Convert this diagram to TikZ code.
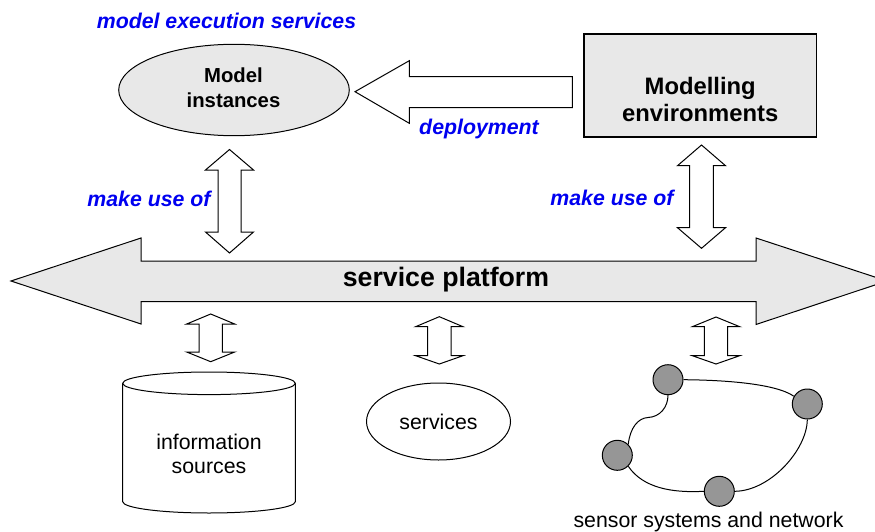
\documentclass[tikz,border=0pt]{standalone}
\usepackage{fontspec}
\usetikzlibrary{shapes.geometric}
\setmainfont{Liberation Sans}
\definecolor{lightfill}{HTML}{E8E8E8}
\definecolor{nodegray}{HTML}{969696}
\definecolor{labelblue}{HTML}{0000F0}
\tikzset{
  block/.style={draw=black,line width=1pt,line join=miter,fill=white},
  grayblock/.style={block,fill=lightfill},
  bluelabel/.style={text=labelblue,font=\fontsize{21.3}{25}\selectfont\bfseries\itshape,inner sep=0pt},
  plain/.style={align=center,font=\fontsize{21.3}{24}\selectfont,inner sep=0pt},
  netnode/.style={circle,draw=black,line width=1pt,fill=nodegray,minimum size=30pt,inner sep=0pt},
  netlink/.style={draw=black,line width=1pt}
}
\newcommand{\vdarrow}[7]{% cx, headhalf, shafthalf, top, sh1, sh2, bot
  \draw[block] (#1,#4) -- (#1+#2,#5) -- (#1+#3,#5) -- (#1+#3,#6) -- (#1+#2,#6) -- (#1,#7)
    -- (#1-#2,#6) -- (#1-#3,#6) -- (#1-#3,#5) -- (#1-#2,#5) -- cycle;
}
\begin{document}
\begin{tikzpicture}[x=1pt,y=-1pt]
\clip (0,0) rectangle (875,532);
% platform
\draw[grayblock] (11,281) -- (141,238) -- (141,261) -- (756,261) -- (756,238) -- (887,281)
  -- (756,324.5) -- (756,301.5) -- (141,301.5) -- (141,324) -- cycle;
\node[font=\fontsize{26.7}{30}\selectfont\bfseries,inner sep=0pt] (platform) at (446,280) {service platform};
% top shapes
\node[ellipse,draw=black,line width=1pt,fill=lightfill,minimum width=230.6pt,minimum height=91.4pt,inner sep=0pt] (model) at (234,90) {};
\node[align=center,inner sep=0pt,font=\fontsize{20.3}{25}\selectfont\bfseries] (modeltext) at (233.5,88) {Model\\instances};
\node[rectangle,draw=black,line width=1.7pt,fill=lightfill,minimum width=232.3pt,minimum height=103pt,inner sep=0pt] (envbox) at (700.2,85.5) {};
\node[font=\fontsize{23.8}{27}\selectfont\bfseries,align=center,inner sep=0pt] (env) at (700.2,99.5) {Modelling\\environments};
\draw[block] (355,91.7) -- (409.3,60.7) -- (409.3,76.7) -- (572.3,76.7) -- (572.3,107.7) -- (409.3,107.7) -- (409.3,123.3) -- cycle;
% double arrows
\vdarrow{229.5}{24}{11.5}{149.5}{170}{232}{253}
\vdarrow{701.5}{24}{11.8}{145}{165.7}{227.7}{248.3}
\vdarrow{210.7}{24}{11.7}{314}{324}{352}{361.7}
\vdarrow{439.3}{23.7}{11.7}{316.7}{326.7}{355.7}{364}
\vdarrow{716}{23.7}{11.7}{317}{326.7}{355.7}{364}
% labels
\node[bluelabel] (mes) at (226.5,21) {model execution services};
\node[bluelabel] (dep) at (479,128.5) {deployment};
\node[bluelabel] (use1) at (149,199) {make use of};
\node[bluelabel] (use2) at (612,198) {make use of};
% cylinder
\draw[block] (122.7,383.3) -- (122.7,501.7) arc[start angle=180,end angle=0,x radius=86.3,y radius=11.3] -- (295.3,383.3);
\draw[block] (209,383.3) ellipse[x radius=86.3,y radius=11.3];
\node[plain] (info) at (209,454) {information\\sources};
% services
\node[ellipse,draw=black,line width=1pt,fill=white,minimum width=144pt,minimum height=77pt,inner sep=0pt,plain] (svc) at (438.5,421.5) {services};
% network
\node[netnode] (n1) at (668,379.7) {};
\node[netnode] (n2) at (807.3,404) {};
\node[netnode] (n3) at (617.3,455.3) {};
\node[netnode] (n4) at (719.3,491.3) {};
\draw[netlink] (n1.east) .. controls (720,380) and (775,383) .. (n2.150);
\draw[netlink] (n2.south) .. controls (807,450) and (770,491) .. (n4.east);
\draw[netlink] (n4.west) .. controls (672,493) and (643,488) .. (n3.-45);
\draw[netlink] (n3.45) .. controls (630,428) and (638,418) .. (648,417.5) .. controls (660,417) and (668,407) .. (n1.south);
\node[plain] (senslabel) at (708.5,521.5) {sensor systems and network};
\end{tikzpicture}
\end{document}
